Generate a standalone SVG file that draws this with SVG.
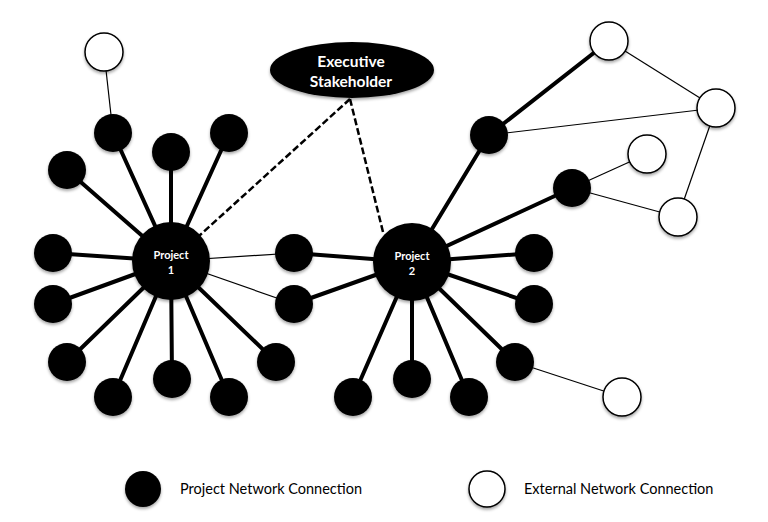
<svg xmlns="http://www.w3.org/2000/svg" width="768" height="522" viewBox="0 0 768 522">
<defs>
<filter id="sh" x="-30%" y="-30%" width="160%" height="170%">
<feDropShadow dx="0" dy="2" stdDeviation="1.5" flood-color="#000" flood-opacity="0.35"/>
</filter>
</defs>
<style>
.thick{stroke:#000;stroke-width:4;fill:none;stroke-linecap:round}
.thin{stroke:#000;stroke-width:1.2;fill:none}
.dash{stroke:#000;stroke-width:2.5;fill:none;stroke-dasharray:7,3}
.pn{fill:#000;filter:url(#sh)}
.ext{fill:#fff;stroke:#000;stroke-width:1.5;filter:url(#sh)}
.hub{fill:#000;filter:url(#sh)}
.lbl{font-family:Lato,"Open Sans",sans-serif;font-weight:bold;fill:#fff;text-anchor:middle}
.leg{font-family:Lato,"Open Sans",sans-serif;font-size:14.5px;fill:#000}
</style>
<rect width="768" height="522" fill="#fff"/>
<g id="connectors">
<line class="thick" x1="171" y1="261" x2="113" y2="133"/>
<line class="thick" x1="171" y1="261" x2="67" y2="170"/>
<line class="thick" x1="171" y1="261" x2="171" y2="152"/>
<line class="thick" x1="171" y1="261" x2="229" y2="133"/>
<line class="thick" x1="171" y1="261" x2="53" y2="253"/>
<line class="thick" x1="171" y1="261" x2="53" y2="304"/>
<line class="thick" x1="171" y1="261" x2="67" y2="362"/>
<line class="thick" x1="171" y1="261" x2="113" y2="397"/>
<line class="thick" x1="171" y1="261" x2="172" y2="379"/>
<line class="thick" x1="171" y1="261" x2="229" y2="397"/>
<line class="thick" x1="171" y1="261" x2="276" y2="362"/>
<line class="thin" x1="171" y1="261" x2="294" y2="253"/>
<line class="thin" x1="171" y1="261" x2="294" y2="304"/>
<line class="thick" x1="412" y1="262" x2="294" y2="253"/>
<line class="thick" x1="412" y1="262" x2="294" y2="304"/>
<line class="thick" x1="412" y1="262" x2="534" y2="253"/>
<line class="thick" x1="412" y1="262" x2="534" y2="304"/>
<line class="thick" x1="412" y1="262" x2="515" y2="362"/>
<line class="thick" x1="412" y1="262" x2="353" y2="397"/>
<line class="thick" x1="412" y1="262" x2="412" y2="379"/>
<line class="thick" x1="412" y1="262" x2="469" y2="397"/>
<line class="thick" x1="412" y1="262" x2="489" y2="135"/>
<line class="thick" x1="412" y1="262" x2="572" y2="188"/>
<line class="thick" x1="489" y1="135" x2="609" y2="41"/>
<line class="thin" x1="113" y1="133" x2="104" y2="52"/>
<line class="thin" x1="489" y1="135" x2="716" y2="108"/>
<line class="thin" x1="609" y1="41" x2="716" y2="108"/>
<line class="thin" x1="716" y1="108" x2="678" y2="217"/>
<line class="thin" x1="572" y1="188" x2="647" y2="154"/>
<line class="thin" x1="572" y1="188" x2="678" y2="217"/>
<line class="thin" x1="515" y1="362" x2="622" y2="397"/>
<line class="dash" x1="350" y1="99" x2="199" y2="236"/>
<line class="dash" x1="350" y1="99" x2="383" y2="232"/>
</g>
<g id="exec">
<ellipse class="hub" cx="352" cy="70" rx="82" ry="28"/>
<text class="lbl" x="351" y="67" font-size="15.5">Executive</text>
<text class="lbl" x="351" y="87" font-size="15.5">Stakeholder</text>
</g>
<g id="project1">
<circle class="hub" cx="171" cy="261" r="39"/>
<text class="lbl" x="171" y="259" font-size="11">Project</text>
<text class="lbl" x="171" y="274" font-size="11">1</text>
</g>
<g id="project2">
<circle class="hub" cx="412" cy="262" r="39"/>
<text class="lbl" x="412" y="260" font-size="11">Project</text>
<text class="lbl" x="412" y="275" font-size="11">2</text>
</g>
<g id="p1-nodes">
<circle id="n1" class="pn" cx="113" cy="133" r="19"/>
<circle id="n2" class="pn" cx="67" cy="170" r="19"/>
<circle id="n3" class="pn" cx="171" cy="152" r="19"/>
<circle id="n4" class="pn" cx="229" cy="133" r="19"/>
<circle id="n5" class="pn" cx="53" cy="253" r="19"/>
<circle id="n6" class="pn" cx="53" cy="304" r="19"/>
<circle id="n7" class="pn" cx="67" cy="362" r="19"/>
<circle id="n8" class="pn" cx="113" cy="397" r="19"/>
<circle id="n9" class="pn" cx="172" cy="379" r="19"/>
<circle id="n10" class="pn" cx="229" cy="397" r="19"/>
<circle id="n11" class="pn" cx="276" cy="362" r="19"/>
</g>
<g id="shared-nodes">
<circle id="n12" class="pn" cx="294" cy="253" r="19"/>
<circle id="n13" class="pn" cx="294" cy="304" r="19"/>
</g>
<g id="p2-nodes">
<circle id="n14" class="pn" cx="534" cy="253" r="19"/>
<circle id="n15" class="pn" cx="534" cy="304" r="19"/>
<circle id="n16" class="pn" cx="515" cy="362" r="19"/>
<circle id="n17" class="pn" cx="353" cy="397" r="19"/>
<circle id="n18" class="pn" cx="412" cy="379" r="19"/>
<circle id="n19" class="pn" cx="469" cy="397" r="19"/>
<circle id="n20" class="pn" cx="489" cy="135" r="19"/>
<circle id="n21" class="pn" cx="572" cy="188" r="19"/>
</g>
<g id="external-nodes">
<circle id="e1" class="ext" cx="104" cy="52" r="19"/>
<circle id="e2" class="ext" cx="609" cy="41" r="19"/>
<circle id="e3" class="ext" cx="716" cy="108" r="19"/>
<circle id="e4" class="ext" cx="647" cy="154" r="19"/>
<circle id="e5" class="ext" cx="678" cy="217" r="19"/>
<circle id="e6" class="ext" cx="622" cy="397" r="19"/>
</g>
<g id="legend">
<circle class="pn" cx="143" cy="489" r="18"/>
<text class="leg" x="180" y="494">Project Network Connection</text>
<circle class="ext" cx="487" cy="489" r="18"/>
<text class="leg" x="524" y="494">External Network Connection</text>
</g>
</svg>
